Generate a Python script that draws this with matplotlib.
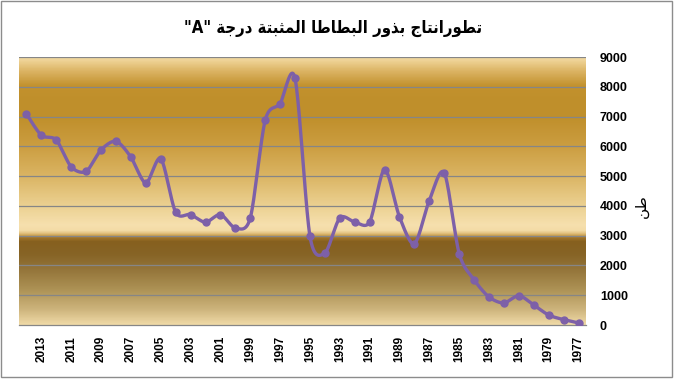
import numpy as np
import matplotlib
matplotlib.use("Agg")
import matplotlib.pyplot as plt
from matplotlib.colors import LinearSegmentedColormap
from matplotlib.patches import Rectangle

# ---------------- data ----------------
years = list(range(1977, 2015))
production = [70, 180, 335, 670, 985, 740, 940, 1520, 2400, 5110,
              4180, 2730, 3630, 5220, 3460, 3460, 3595, 2420, 2980, 8280,
              7435, 6875, 3595, 3260, 3710, 3450, 3710, 3785, 5590, 4770,
              5640, 6170, 5880, 5160, 5310, 6215, 6370, 7090]
label_years = list(range(1977, 2015, 2))
yticks = list(range(0, 9001, 1000))

title_txt = 'تطورانتاج بذور البطاطا المثبتة درجة "A"'
ylabel_txt = 'طن'

# ---------------- simple Arabic shaping ----------------
FORMS = {  # iso, fin, init, med
    'ا': ('\uFE8D', '\uFE8E', None, None),
    'ب': ('\uFE8F', '\uFE90', '\uFE91', '\uFE92'),
    'ة': ('\uFE93', '\uFE94', None, None),
    'ت': ('\uFE95', '\uFE96', '\uFE97', '\uFE98'),
    'ث': ('\uFE99', '\uFE9A', '\uFE9B', '\uFE9C'),
    'ج': ('\uFE9D', '\uFE9E', '\uFE9F', '\uFEA0'),
    'د': ('\uFEA9', '\uFEAA', None, None),
    'ذ': ('\uFEAB', '\uFEAC', None, None),
    'ر': ('\uFEAD', '\uFEAE', None, None),
    'ط': ('\uFEC1', '\uFEC2', '\uFEC3', '\uFEC4'),
    'ل': ('\uFEDD', '\uFEDE', '\uFEDF', '\uFEE0'),
    'م': ('\uFEE1', '\uFEE2', '\uFEE3', '\uFEE4'),
    'ن': ('\uFEE5', '\uFEE6', '\uFEE7', '\uFEE8'),
    'و': ('\uFEED', '\uFEEE', None, None),
}


def shape(s):
    out = []
    n = len(s)
    for i, c in enumerate(s):
        if c not in FORMS:
            out.append(c)
            continue
        prev = s[i - 1] if i > 0 else ''
        nxt = s[i + 1] if i < n - 1 else ''
        jp = prev in FORMS and FORMS[prev][2] is not None
        jn = FORMS[c][2] is not None and nxt in FORMS
        iso, fin, ini, med = FORMS[c]
        if jp and jn:
            out.append(med)
        elif jp:
            out.append(fin)
        elif jn:
            out.append(ini)
        else:
            out.append(iso)
    return ''.join(out)[::-1]


# ---------------- figure ----------------
W, H = 677, 383
fig = plt.figure(figsize=(W / 100, H / 100), dpi=100)
fig.patch.set_facecolor('white')

fig.add_artist(Rectangle((1 / W, 6 / H), 671 / W, 376 / H, transform=fig.transFigure,
                         fill=False, edgecolor='#8c8c8c', lw=1.0))

ax = fig.add_axes([19 / W, (H - 325) / H, 567 / W, 268 / H])

x = np.arange(len(years))
ax.set_xlim(len(years) - 0.5, -0.5)
ax.set_ylim(0, 9000)

# background gradient (value -> colour)
stops = [(0, '#efd9a6'), (504, '#cdb47c'), (1175, '#ad9255'), (1847, '#94753a'),
         (2351, '#876426'), (2787, '#86601f'), (2922, '#a07428'), (3022, '#d5ad60'),
         (3157, '#f3dba5'), (3358, '#f6e0ae'), (4030, '#ebd090'), (5037, '#dab462'),
         (6045, '#cb9d40'), (6951, '#c0902c'), (7556, '#bf8f2b'), (8060, '#c3922e'),
         (8563, '#dcb565'), (9000, '#f3daa2')]
cmap = LinearSegmentedColormap.from_list('bg', [(v / 9000, c) for v, c in stops])
grad = np.linspace(0, 1, 600).reshape(-1, 1)
ax.imshow(grad, cmap=cmap, aspect='auto', origin='lower',
          extent=(len(years) - 0.5, -0.5, 0, 9000), zorder=0)

for t in yticks[1:]:
    ax.axhline(t, color='#868686', lw=0.9, zorder=1)

# smooth curve (Excel-like Bezier)
px = np.array(x, dtype=float)
py = np.array(production, dtype=float)
P = np.column_stack([px, py])
P_ext = np.vstack([P[0], P, P[-1]])
curve = []
tt = np.linspace(0, 1, 30)
k = 7.0
for i in range(len(P) - 1):
    p0, p1, p2, p3 = P_ext[i], P_ext[i + 1], P_ext[i + 2], P_ext[i + 3]
    c1 = p1 + (p2 - p0) / k
    c2 = p2 - (p3 - p1) / k
    b = ((1 - tt) ** 3)[:, None] * p1 + (3 * (1 - tt) ** 2 * tt)[:, None] * c1 \
        + (3 * (1 - tt) * tt ** 2)[:, None] * c2 + (tt ** 3)[:, None] * p2
    curve.append(b)
curve = np.vstack(curve)
ax.plot(curve[:, 0], curve[:, 1], color='#7d60a8', lw=2.4, zorder=3,
        solid_capstyle='round', solid_joinstyle='round')
ax.plot(px, py, 'o', color='#7d60a8', ms=5, zorder=4)

for s in ['left', 'top', 'right']:
    ax.spines[s].set_visible(False)
ax.spines['bottom'].set_color('#868686')
ax.spines['bottom'].set_linewidth(0.9)

ax.yaxis.tick_right()
ax.set_yticks(yticks)
ax.set_yticklabels([str(v) for v in yticks], fontfamily='Liberation Sans',
                   fontweight='bold', fontsize=9)
ax.tick_params(axis='y', length=0, pad=10)

ax.set_xticks([years.index(yv) for yv in label_years])
ax.set_xticklabels([str(v) for v in label_years], rotation=90,
                   fontfamily='Liberation Sans', fontweight='bold', fontsize=8.5)
ax.tick_params(axis='x', length=0, pad=8)

fig.text(333 / W, 1 - 28 / H, shape(title_txt), ha='center', va='center',
         fontfamily='DejaVu Sans', fontstretch='condensed', fontweight='bold',
         fontsize=12)
fig.text(641 / W, 1 - 206 / H, shape(ylabel_txt), ha='center', va='center',
         rotation=90, fontfamily='DejaVu Sans', fontsize=11)

fig.savefig('out.png', dpi=100)
